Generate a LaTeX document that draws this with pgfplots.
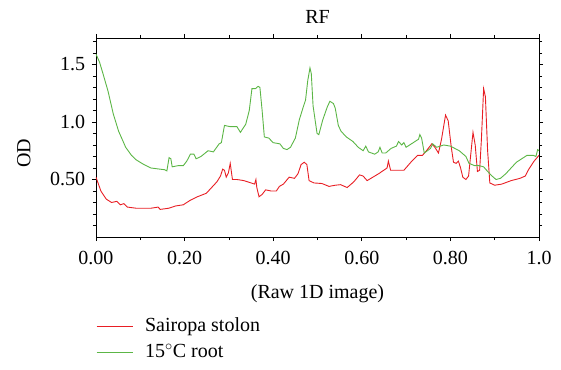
\documentclass[border=0pt]{standalone}
\usepackage{fontspec}
\setmainfont{Liberation Serif}
\usepackage{pgfplots}
\pgfplotsset{compat=1.18}
\definecolor{cred}{RGB}{232,30,36}
\definecolor{cgreen}{RGB}{92,182,70}
\begin{document}
\fontsize{20}{24}\selectfont
\begin{tikzpicture}
\begin{axis}[name=ax, at={(0,0)}, anchor=south west,
  scale only axis, width=443pt, height=199pt,
  xmin=0, xmax=1, ymin=0, ymax=1.73,
  xtick={0,0.2,0.4,0.6,0.8,1}, xticklabels={0.00,0.20,0.40,0.60,0.80,1.0},
  minor xtick={0.1,0.3,0.5,0.7,0.9},
  ytick={0.5,1,1.5}, yticklabels={0.50,1.0,1.5},
  minor ytick={0.1,0.2,0.3,0.4,0.6,0.7,0.8,0.9,1.1,1.2,1.3,1.4,1.6,1.7},
  tick align=outside, major tick length=4pt, minor tick length=3pt,
  axis line style={line width=0.8pt}, tick style={line width=0.7pt, black},
  /pgf/number format/assume math mode=true,
  xticklabel style={yshift=-3pt},
  title={RF}, title style={at={(axis description cs:0.5,1)}, anchor=base, yshift=8pt},
  xlabel={(Raw 1D image)}, xlabel style={at={(axis description cs:0.5,0)}, anchor=base, yshift=-61pt},
  ylabel={OD}, ylabel style={at={(axis description cs:-0.148,0.42)}, anchor=base},
  legend style={at={(axis description cs:0,-0.40)}, anchor=north west, draw=none, fill=none,
    inner xsep=0pt, inner ysep=0pt, row sep=7pt, nodes={inner sep=1pt}},
  legend cell align=left,
  legend image code/.code={\draw[#1] (0pt,0pt) -- (36pt,0pt); \path (47pt,0pt);},
]
\addplot[cred, line width=0.9pt] coordinates {
(0,0.52) (0.011,0.40) (0.023,0.33) (0.035,0.30) (0.047,0.31) (0.052,0.29) (0.055,0.28)
(0.063,0.29) (0.071,0.26) (0.091,0.25) (0.108,0.25) (0.124,0.25) (0.14,0.26) (0.145,0.24)
(0.164,0.25) (0.18,0.27) (0.197,0.28) (0.213,0.32) (0.229,0.35) (0.249,0.38) (0.261,0.43)
(0.273,0.48) (0.281,0.53) (0.286,0.59) (0.29,0.58) (0.294,0.52) (0.299,0.56) (0.303,0.64)
(0.308,0.50) (0.318,0.50) (0.334,0.49) (0.35,0.47) (0.358,0.46) (0.361,0.50) (0.363,0.43)
(0.368,0.35) (0.375,0.37) (0.383,0.41) (0.395,0.40) (0.407,0.40) (0.414,0.44) (0.423,0.46)
(0.436,0.52) (0.448,0.51) (0.456,0.55) (0.463,0.63) (0.47,0.65) (0.476,0.63) (0.481,0.49)
(0.492,0.47) (0.51,0.465) (0.526,0.44) (0.54,0.45) (0.552,0.455) (0.567,0.43) (0.582,0.48)
(0.595,0.54) (0.603,0.53) (0.612,0.49) (0.638,0.55) (0.657,0.60) (0.66,0.66) (0.665,0.58)
(0.695,0.58) (0.713,0.66) (0.726,0.71) (0.737,0.71) (0.748,0.76) (0.758,0.81) (0.765,0.78)
(0.773,0.73) (0.78,0.85) (0.789,1.06) (0.795,1.01) (0.802,0.78) (0.807,0.65) (0.813,0.64)
(0.818,0.66) (0.823,0.60) (0.828,0.52) (0.835,0.50) (0.841,0.53) (0.846,0.72) (0.851,0.91)
(0.856,0.80) (0.861,0.57) (0.866,0.58) (0.870,0.85) (0.875,1.29) (0.879,1.22) (0.884,0.75)
(0.889,0.47) (0.9,0.45) (0.916,0.46) (0.937,0.49) (0.957,0.51) (0.969,0.53) (0.977,0.59)
(0.989,0.66) (1.0,0.71)
};
\addlegendentry{Sairopa stolon}
\addplot[cgreen, line width=0.9pt] coordinates {
(0,1.59) (0.008,1.52) (0.015,1.43) (0.027,1.27) (0.039,1.07) (0.051,0.92) (0.067,0.78)
(0.08,0.71) (0.091,0.67) (0.108,0.63) (0.124,0.60) (0.144,0.59) (0.155,0.585) (0.160,0.575)
(0.165,0.69) (0.169,0.68) (0.172,0.61) (0.185,0.62) (0.197,0.62) (0.205,0.66) (0.213,0.72)
(0.221,0.72) (0.226,0.68) (0.237,0.70) (0.253,0.75) (0.265,0.74) (0.278,0.81) (0.283,0.82)
(0.29,0.97) (0.302,0.96) (0.318,0.96) (0.326,0.91) (0.338,0.98) (0.346,1.10) (0.352,1.29)
(0.36,1.29) (0.366,1.31) (0.37,1.30) (0.375,1.10) (0.38,0.87) (0.39,0.86) (0.40,0.82)
(0.415,0.81) (0.423,0.77) (0.431,0.76) (0.439,0.78) (0.45,0.86) (0.459,1.02) (0.467,1.12)
(0.473,1.19) (0.478,1.36) (0.483,1.47) (0.486,1.42) (0.49,1.14) (0.499,0.90) (0.503,0.89)
(0.512,1.02) (0.522,1.13) (0.528,1.18) (0.536,1.16) (0.54,1.12) (0.547,0.97) (0.553,0.92)
(0.565,0.87) (0.58,0.83) (0.592,0.78) (0.603,0.75) (0.609,0.79) (0.615,0.74) (0.629,0.72)
(0.637,0.74) (0.641,0.78) (0.646,0.73) (0.654,0.73) (0.666,0.77) (0.678,0.79) (0.683,0.83)
(0.69,0.80) (0.695,0.82) (0.70,0.78) (0.716,0.82) (0.728,0.85) (0.731,0.89) (0.735,0.86)
(0.741,0.73) (0.755,0.77) (0.760,0.81) (0.769,0.78) (0.785,0.80) (0.80,0.79) (0.82,0.75)
(0.835,0.70) (0.842,0.64) (0.855,0.62) (0.865,0.62) (0.875,0.61) (0.884,0.57) (0.894,0.53)
(0.903,0.50) (0.913,0.51) (0.925,0.55) (0.937,0.60) (0.949,0.65) (0.961,0.68) (0.973,0.71)
(0.987,0.71) (0.993,0.70) (0.997,0.76) (1.0,0.75)
};
\addlegendentry{15$^\circ$C root}
\end{axis}
\pgfresetboundingbox
\path[use as bounding box] (ax.south west) ++(-96pt,-132pt) rectangle ++(561pt,369pt);
\end{tikzpicture}
\end{document}
